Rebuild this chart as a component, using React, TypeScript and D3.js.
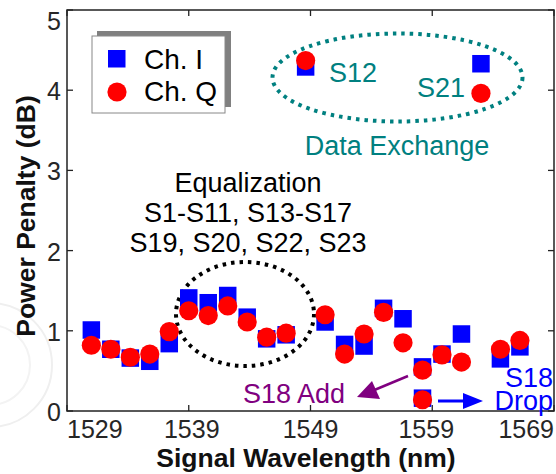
import React from "react";
import * as d3 from "d3";

const channelNames = ["S1","S2","S3","S4","S5","S6","S7","S8","S9","S10","S11","S12","S13","S14","S15","S16","S17","S18 Add","S18 Drop","S19","S20","S21","S22","S23"];
const wavelengthsNm = [1531.0,1532.6,1534.2,1535.8,1537.4,1539.0,1540.6,1542.2,1543.8,1545.4,1547.0,1548.6,1550.2,1551.8,1553.4,1555.0,1556.6,1558.2,1558.2,1559.8,1561.4,1563.0,1564.6,1566.2];
const chIPenalty = [1.01,0.77,0.66,0.62,0.84,1.41,1.35,1.44,1.17,0.90,0.95,4.29,1.11,0.83,0.81,1.28,1.15,0.55,0.16,0.71,0.96,4.33,0.65,0.80];
const chQPenalty = [0.82,0.77,0.67,0.71,0.99,1.25,1.19,1.31,1.11,0.92,0.97,4.37,1.20,0.71,0.96,1.23,0.85,0.51,0.14,0.70,0.61,3.96,0.77,0.88];
const xTicks = [1529, 1539, 1549, 1559, 1569];
const yTicks = [0, 1, 2, 3, 4, 5];
const seriesNames = ["Ch. I", "Ch. Q"];
const equalizationLines = ["Equalization", "S1-S11, S13-S17", "S19, S20, S22, S23"];

const W = 556, H = 474;
const FONT = "'Liberation Sans', Arial, sans-serif";
const AX = "#222";

export default function App() {
  const x = d3.scaleLinear().domain([1529, 1569]).range([67, 554]);
  const y = d3.scaleLinear().domain([0, 5]).range([411, 10]);
  const [x0, x1] = x.range();
  const [y0, y1] = y.range();
  const sq = 17.5;
  const r = 9.6;
  const labelDx = [0, 3, 0, -6, 0];
  const labelAnchor = ["start", "middle", "middle", "middle", "end"];

  return (
    <svg width={W} height={H} style={{ position: "absolute", left: 0, top: 0, background: "#fff" }} fontFamily={FONT}>
      <rect x={0} y={0} width={W} height={H} fill="#fff" />
      {/* faint watermark arcs */}
      <circle cx={-10} cy={365} r={62} fill="none" stroke="#efefef" strokeWidth={2} />
      <circle cx={-10} cy={365} r={40} fill="none" stroke="#f3f3f3" strokeWidth={2} />

      {/* plot frame */}
      <rect x={x0} y={y1} width={x1 - x0} height={y0 - y1} fill="none" stroke={AX} strokeWidth={1.5} />
      {xTicks.map((t, i) => (
        <g key={"xt" + t}>
          <line x1={x(t)} x2={x(t)} y1={y0} y2={y0 - 6} stroke={AX} strokeWidth={1.3} />
          <line x1={x(t)} x2={x(t)} y1={y1} y2={y1 + 6} stroke={AX} strokeWidth={1.3} />
          <text x={x(t) + labelDx[i]} y={438} fontSize={25} fill="#262626" textAnchor={labelAnchor[i]}>{t}</text>
        </g>
      ))}
      {yTicks.map((t, i) => (
        <g key={"yt" + t}>
          <line x1={x0} x2={x0 + 6} y1={y(t)} y2={y(t)} stroke={AX} strokeWidth={1.3} />
          <line x1={x1} x2={x1 - 6} y1={y(t)} y2={y(t)} stroke={AX} strokeWidth={1.3} />
          <text x={61} y={i === yTicks.length - 1 ? 30 : y(t) + 10} fontSize={25} fill="#262626" textAnchor="end">{t}</text>
        </g>
      ))}
      <text x={306} y={467} fontSize={26.5} fontWeight="bold" fill="#111" textAnchor="middle">Signal Wavelength (nm)</text>
      <text transform="translate(35,216) rotate(-90)" fontSize={26.5} fontWeight="bold" fill="#111" textAnchor="middle">Power Penalty (dB)</text>

      {/* annotation ellipses */}
      <ellipse cx={245} cy={314} rx={69} ry={52} fill="none" stroke="#000" strokeWidth={4} strokeDasharray="3.5 5" />
      <ellipse cx={397.5} cy={77.5} rx={125} ry={44} fill="none" stroke="#008080" strokeWidth={4} strokeDasharray="3.5 5" />

      {/* data */}
      {chIPenalty.map((v, i) => (
        <rect key={"i" + channelNames[i]} x={x(wavelengthsNm[i]) - sq / 2} y={y(v) - sq / 2} width={sq} height={sq} fill="#0000ff" />
      ))}
      {chQPenalty.map((v, i) => (
        <circle key={"q" + channelNames[i]} cx={x(wavelengthsNm[i])} cy={y(v)} r={r} fill="#ff0000" />
      ))}

      {/* text annotations */}
      {equalizationLines.map((s, i) => (
        <text key={s} x={248} y={192 + i * 30} fontSize={27} fill="#000" textAnchor="middle">{s}</text>
      ))}
      <text x={329} y={82} fontSize={27} fill="#008080">S12</text>
      <text x={417} y={97} fontSize={27} fill="#008080">S21</text>
      <text x={397} y={155} fontSize={27} fill="#008080" textAnchor="middle">Data Exchange</text>

      <text x={243} y={403} fontSize={27} fill="#800080">S18 Add</text>
      <line x1={408} y1={376} x2={372} y2={391} stroke="#800080" strokeWidth={2.5} />
      <polygon points="357,397 372,381 380,399" fill="#800080" />

      <line x1={438} y1={401} x2={466} y2={401} stroke="#0000ff" strokeWidth={3} />
      <polygon points="483,401 463,393 463,409" fill="#0000ff" />
      <text x={553} y={387} fontSize={27} fill="#0000ff" textAnchor="end">S18</text>
      <text x={553} y={410} fontSize={27} fill="#0000ff" textAnchor="end">Drop</text>

      {/* legend */}
      <rect x={97} y={31} width={134} height={76} fill="#808080" />
      <rect x={92} y={36} width={133} height={77} fill="#fff" stroke="#888" strokeWidth={1} />
      <rect x={108} y={50} width={17.5} height={17.5} fill="#0000ff" />
      <text x={144} y={69} fontSize={28} fill="#000">{seriesNames[0]}</text>
      <circle cx={117} cy={92} r={9.6} fill="#ff0000" />
      <text x={144} y={101} fontSize={28} fill="#000">{seriesNames[1]}</text>
    </svg>
  );
}
